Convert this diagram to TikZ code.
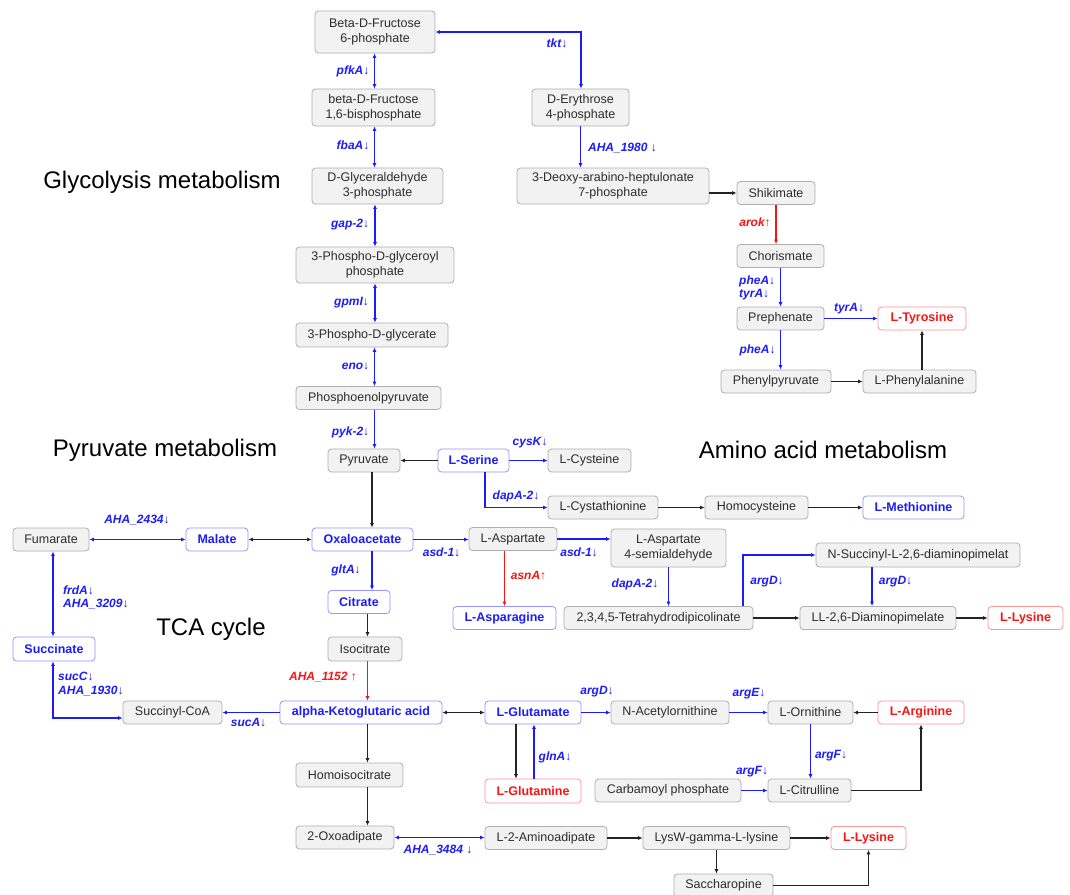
\documentclass[tikz,border=0pt]{standalone}
\usepackage{fontspec}
\setmainfont{Liberation Sans}
\usetikzlibrary{arrows.meta}
\definecolor{myblue}{RGB}{28,28,250}
\definecolor{myred}{RGB}{250,20,20}
\definecolor{boxfill}{RGB}{242,242,242}
\definecolor{boxline}{RGB}{175,175,175}
\definecolor{bboxline}{RGB}{150,150,255}
\definecolor{rboxline}{RGB}{255,150,150}
\definecolor{txt}{RGB}{45,45,45}
\definecolor{blk}{RGB}{35,35,35}
\begin{document}
\begin{tikzpicture}[x=1pt,y=-1pt,>={Latex[length=4.5pt,width=4pt]},
  box/.style={draw=boxline,fill=boxfill,rounded corners=3.5pt,line width=0.8pt,inner sep=0pt,
    text=txt,align=center,font=\fontsize{12.5}{15}\selectfont},
  bbox/.style={box,draw=bboxline,fill=white,text=myblue,font=\fontsize{12.5}{15}\selectfont\bfseries},
  rbox/.style={box,draw=rboxline,fill=white,text=myred,font=\fontsize{12.5}{15}\selectfont\bfseries},
  bl/.style={draw=myblue,line width=1.4pt},
  bk/.style={draw=blk,line width=1.1pt},
  rd/.style={draw=myred,line width=1.1pt},
  lab/.style={text=myblue,inner sep=0pt,font=\fontsize{12}{14}\selectfont\bfseries\itshape,align=left},
  rlab/.style={lab,text=myred},
  title/.style={inner sep=0pt,text=black,font=\fontsize{24}{28}\selectfont}]
\useasboundingbox (0,0) rectangle (1070,894);
\fill[white] (0,0) rectangle (1070,894);

% titles
\node[title] (t1) at (162,182) {Glycolysis metabolism};
\node[title] (t2) at (165,450) {Pyruvate metabolism};
\node[title] (t3) at (211,629) {TCA cycle};
\node[title] (t4) at (823,450) {Amino acid metabolism};

% nodes
\node[box,minimum width=120pt,minimum height=42pt] (f6p) at (375,32) {Beta-D-Fructose\\6-phosphate};
\node[box,minimum width=123pt,minimum height=37pt] (fbp) at (373.5,107.5) {beta-D-Fructose\\1,6-bisphosphate};
\node[box,minimum width=131pt,minimum height=36pt] (g3p) at (377.5,186) {D-Glyceraldehyde\\3-phosphate};
\node[box,minimum width=97pt,minimum height=37pt] (e4p) at (580.5,107.5) {D-Erythrose\\4-phosphate};
\node[box,minimum width=192pt,minimum height=36pt] (dahp) at (613,186) {3-Deoxy-arabino-heptulonate\\7-phosphate};
\node[box,minimum width=78pt,minimum height=23pt] (shik) at (776,193) {Shikimate};
\node[box,minimum width=87pt,minimum height=23pt] (chor) at (780.5,256) {Chorismate};
\node[box,minimum width=87pt,minimum height=23pt] (preph) at (780.5,318.5) {Prephenate};
\node[rbox,minimum width=88pt,minimum height=23pt] (tyr) at (922,318.5) {L-Tyrosine};
\node[box,minimum width=110pt,minimum height=23pt] (phepyr) at (776,381.5) {Phenylpyruvate};
\node[box,minimum width=113pt,minimum height=23pt] (phe) at (919.5,381.5) {L-Phenylalanine};
\node[box,minimum width=158pt,minimum height=36pt] (pgp) at (375,265) {3-Phospho-D-glyceroyl\\phosphate};
\node[box,minimum width=152pt,minimum height=24pt] (pg) at (372,335) {3-Phospho-D-glycerate};
\node[box,minimum width=145pt,minimum height=23pt] (pep) at (368.5,398) {Phosphoenolpyruvate};
\node[box,minimum width=72pt,minimum height=23pt] (pyr) at (364,460.5) {Pyruvate};
\node[bbox,minimum width=71pt,minimum height=23pt] (ser) at (473.5,460.5) {L-Serine};
\node[box,minimum width=83pt,minimum height=23pt] (cys) at (589.5,460.5) {L-Cysteine};
\node[box,minimum width=110pt,minimum height=23pt] (cysta) at (603,507.5) {L-Cystathionine};
\node[box,minimum width=103pt,minimum height=23pt] (homocys) at (756.5,507.5) {Homocysteine};
\node[bbox,minimum width=101pt,minimum height=23pt] (met) at (913.5,507.5) {L-Methionine};
\node[box,minimum width=76pt,minimum height=23pt] (fum) at (51,539.5) {Fumarate};
\node[bbox,minimum width=62pt,minimum height=23pt] (mal) at (217,539.5) {Malate};
\node[bbox,minimum width=101pt,minimum height=23pt] (oaa) at (362.5,539.5) {Oxaloacetate};
\node[box,minimum width=88pt,minimum height=23pt] (asp) at (513,539) {L-Aspartate};
\node[box,minimum width=115pt,minimum height=38pt] (asa) at (668.5,548) {L-Aspartate\\4-semialdehyde};
\node[box,minimum width=204pt,minimum height=24pt] (nsucc) at (918,555) {N-Succinyl-L-2,6-diaminopimelat};
\node[bbox,minimum width=62pt,minimum height=23pt] (citr) at (359,602) {Citrate};
\node[bbox,minimum width=103pt,minimum height=23pt] (asn) at (504.5,618) {L-Asparagine};
\node[box,minimum width=189pt,minimum height=23pt] (thdp) at (658.5,618) {2,3,4,5-Tetrahydrodipicolinate};
\node[box,minimum width=156pt,minimum height=23pt] (dap) at (878,618) {LL-2,6-Diaminopimelate};
\node[rbox,minimum width=75pt,minimum height=23pt] (lysa) at (1025.5,618) {L-Lysine};
\node[bbox,minimum width=82pt,minimum height=24pt] (succ) at (54,649) {Succinate};
\node[box,minimum width=74pt,minimum height=24pt] (isocit) at (365,649) {Isocitrate};
\node[box,minimum width=99pt,minimum height=23pt] (succoa) at (172.5,712.5) {Succinyl-CoA};
\node[bbox,minimum width=162pt,minimum height=23pt] (akg) at (361,712.5) {alpha-Ketoglutaric acid};
\node[bbox,minimum width=96pt,minimum height=23pt] (glu) at (533,712.5) {L-Glutamate};
\node[box,minimum width=118pt,minimum height=23pt] (nacorn) at (670,712.5) {N-Acetylornithine};
\node[box,minimum width=85pt,minimum height=23pt] (orn) at (810.5,712.5) {L-Ornithine};
\node[rbox,minimum width=86pt,minimum height=23pt] (arg) at (921,712.5) {L-Arginine};
\node[box,minimum width=107pt,minimum height=24pt] (homoisocit) at (349.5,775) {Homoisocitrate};
\node[rbox,minimum width=96pt,minimum height=24pt] (gln) at (533,791) {L-Glutamine};
\node[box,minimum width=146pt,minimum height=23pt] (carb) at (668,790.5) {Carbamoyl phosphate};
\node[box,minimum width=83pt,minimum height=23pt] (citrul) at (809.5,790.5) {L-Citrulline};
\node[box,minimum width=98pt,minimum height=23pt] (oxoad) at (345,837.5) {2-Oxoadipate};
\node[box,minimum width=122pt,minimum height=23pt] (aminoad) at (546,838) {L-2-Aminoadipate};
\node[box,minimum width=147pt,minimum height=23pt] (lysw) at (716.5,838) {LysW-gamma-L-lysine};
\node[rbox,minimum width=75pt,minimum height=23pt] (lysb) at (868.5,838) {L-Lysine};
\node[box,minimum width=99pt,minimum height=23pt] (sacch) at (723.5,885.5) {Saccharopine};

% helper coordinates
\coordinate (gx) at (374.5,0);
\coordinate (tk) at (581,0);
\coordinate (px) at (372,0);
\coordinate (cx) at (367.5,0);
\coordinate (fx) at (53,0);
\coordinate (sc) at (53,718);
\coordinate (tn) at (743,555);

% glycolysis
\draw[bl,<->] (f6p.south -| gx) -- (fbp.north -| gx);
\draw[bl,<->] (fbp.south -| gx) -- (g3p.north -| gx);
\draw[bl,<->] (g3p.south -| pgp.north) -- (pgp.north);
\draw[bl,<->] (pgp.south) -- (pgp.south |- pg.north);
\draw[bl,<->] (pg.south -| gx) -- (pep.north -| gx);
\draw[bl,->] (pep.south -| gx) -- (pyr.north -| gx);
\node[lab] (l1) at (353,71) {pfkA↓};
\node[lab] (l2) at (353,145) {fbaA↓};
\node[lab] (l3) at (350,225) {gap-2↓};
\node[lab] (l4) at (351.5,303) {gpmI↓};
\node[lab] (l5) at (355.5,366) {eno↓};
\node[lab] (l6) at (350.5,432) {pyk-2↓};

% pentose / shikimate
\draw[bl,<->] (f6p.east) -- (f6p.east -| tk) -- (e4p.north -| tk);
\node[lab] (l7) at (557,43) {tkt↓};
\draw[bl,->] (e4p.south) -- (e4p.south |- dahp.north);
\node[lab] (l8) at (622.5,148) {AHA\_1980 ↓};
\draw[bk,->] (dahp.east |- shik.west) -- (shik.west);
\draw[rd,->] (shik.south) -- (shik.south |- chor.north);
\node[rlab] (l9) at (755,222) {arok↑};
\draw[bl,->] (chor.south) -- (preph.north);
\node[lab,anchor=west] (l10) at (739,287.5) {pheA↓\\[-1pt]tyrA↓};
\draw[bl,->] (preph.east) -- (tyr.west);
\node[lab] (l11) at (849,309) {tyrA↓};
\draw[bl,->] (preph.south) -- (preph.south |- phepyr.north);
\node[lab] (l12) at (757.5,350) {pheA↓};
\draw[bk,->] (phepyr.east) -- (phe.west);
\draw[bk,->] (tyr.south |- phe.north) -- (tyr.south);

% serine
\draw[bk,->] (ser.west) -- (pyr.east);
\draw[bl,->] (ser.east) -- (cys.west);
\node[lab] (l13) at (530,443) {cysK↓};
\draw[bl,->] ([xshift=11.5pt]ser.south) -- ([xshift=11.5pt]ser.south |- cysta.west) -- (cysta.west);
\node[lab] (l14) at (516,496) {dapA-2↓};
\draw[bk,->] (cysta.east) -- (homocys.west);
\draw[bk,->] (homocys.east) -- (met.west);

% pyruvate / TCA
\draw[bk,->] (pyr.south -| px) -- (oaa.north -| px);
\draw[bl,<->] (fum.east) -- (mal.west);
\node[lab] (l15) at (137,520) {AHA\_2434↓};
\draw[bk,<->] (mal.east) -- (oaa.west);
\draw[bl,->] (oaa.south -| px) -- (citr.north -| px);
\node[lab] (l16) at (346,570) {gltA↓};
\draw[bk,->] (citr.south -| cx) -- (isocit.north -| cx);
\draw[rd,->] (isocit.south -| cx) -- (akg.north -| cx);
\node[rlab] (l17) at (323,677) {AHA\_1152 ↑};
\draw[bl,<->] (fum.south -| fx) -- (succ.north -| fx);
\node[lab,anchor=west] (l18) at (63,597.5) {frdA↓\\[-1pt]AHA\_3209↓};
\draw[bl,<->] (succ.south -| sc) -- (sc) -- (succoa.west |- sc);
\node[lab,anchor=west] (l19) at (58,684.5) {sucC↓\\AHA\_1930↓};
\draw[bl,->] (akg.west) -- (succoa.east);
\node[lab] (l20) at (248.5,723) {sucA↓};
\draw[bk,->] (akg.south -| cx) -- (homoisocit.north -| cx);
\draw[bk,->] (homoisocit.south -| cx) -- (oxoad.north -| cx);
\draw[bl,<->] (oxoad.east) -- (oxoad.east -| aminoad.west);
\node[lab] (l21) at (438,850) {AHA\_3484 ↓};

% aspartate
\draw[bl,->] (oaa.east) -- (oaa.east -| asp.west);
\node[lab] (l22) at (441.5,552) {asd-1↓};
\draw[bl,->] (asp.east) -- (asp.east -| asa.west);
\node[lab] (l23) at (579,552) {asd-1↓};
\draw[rd,->] (asn.north |- asp.south) -- (asn.north);
\node[rlab] (l24) at (528.5,576) {asnA↑};
\draw[bl,->] (asa.south) -- (asa.south |- thdp.north);
\node[lab] (l25) at (635,584) {dapA-2↓};
\draw[bl,->] (thdp.north -| tn) -- (tn) -- (nsucc.west);
\node[lab] (l26) at (767,582) {argD↓};
\draw[bl,->] ([xshift=-6pt]dap.north |- nsucc.south) -- ([xshift=-6pt]dap.north);
\node[lab] (l27) at (895.5,582) {argD↓};
\draw[bk,->] (thdp.east) -- (dap.west);
\draw[bk,->] (dap.east) -- (lysa.west);

% glutamate / arginine
\draw[bk,<->] (akg.east) -- (glu.west);
\draw[bk,->] ([xshift=-17pt]glu.south) -- ([xshift=-17pt]gln.north);
\draw[bl,->] ([xshift=1pt]gln.north) -- ([xshift=1pt]glu.south);
\node[lab] (l28) at (555,757) {glnA↓};
\draw[bl,->] (glu.east) -- (nacorn.west);
\node[lab] (l29) at (597,692) {argD↓};
\draw[bl,->] (nacorn.east) -- (orn.west);
\node[lab] (l30) at (749,694) {argE↓};
\draw[bk,->] (arg.west) -- (orn.east);
\draw[bl,->] (orn.south) -- (orn.south |- citrul.north);
\node[lab] (l31) at (831,756) {argF↓};
\draw[bl,->] (carb.east) -- (citrul.west);
\node[lab] (l32) at (752,772) {argF↓};
\draw[bk,->] (citrul.east) -- (citrul.east -| arg.south) -- (arg.south);

% lysine (aminoadipate)
\draw[bk,->] (aminoad.east) -- (lysw.west);
\draw[bk,->] (lysw.east) -- (lysb.west);
\draw[bk,->] (lysw.south) -- (lysw.south |- sacch.north);
\draw[bk,->] (sacch.east) -- (sacch.east -| lysb.south) -- (lysb.south);
\end{tikzpicture}
\end{document}
